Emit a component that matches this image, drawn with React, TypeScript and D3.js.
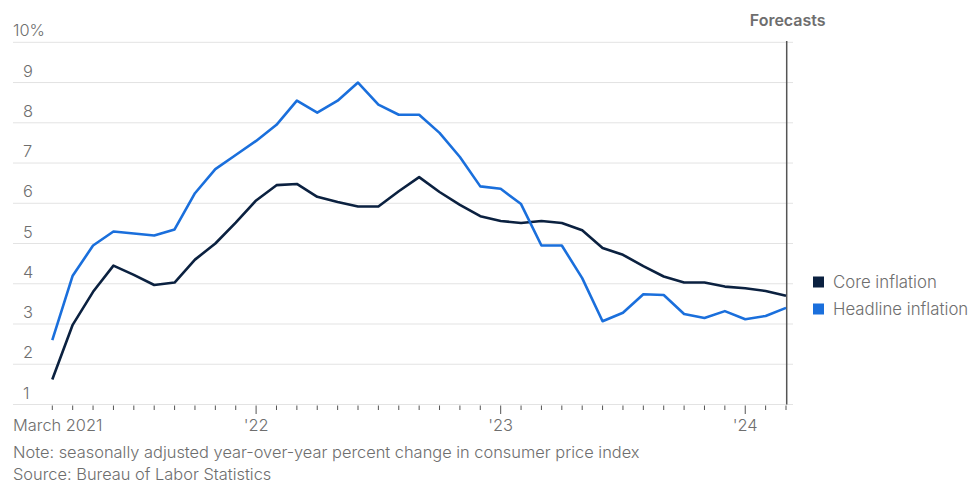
import * as d3 from 'd3';
import React, { useEffect, useRef } from 'react';

// monthly, March 2021 .. March 2024
const months: string[] = d3.range(37).map(i => {
  const d = new Date(2021, 2 + i, 1);
  return d3.timeFormat('%Y-%m')(d);
});

const headline: number[] = [
  2.6, 4.2, 4.95, 5.3, 5.25, 5.2, 5.35, 6.25, 6.85, 7.2, 7.55, 7.95,
  8.55, 8.25, 8.55, 9.0, 8.45, 8.2, 8.2, 7.75, 7.15, 6.42, 6.36, 5.98,
  4.95, 4.95, 4.14, 3.07, 3.28, 3.74, 3.72, 3.25, 3.15, 3.32, 3.12, 3.2, 3.4,
];

const core: number[] = [
  1.62, 2.98, 3.8, 4.45, 4.22, 3.97, 4.03, 4.6, 5.0, 5.52, 6.07, 6.45,
  6.48, 6.16, 6.03, 5.92, 5.92, 6.3, 6.65, 6.28, 5.96, 5.68, 5.56, 5.51,
  5.56, 5.51, 5.33, 4.89, 4.72, 4.44, 4.18, 4.03, 4.03, 3.93, 3.89, 3.82, 3.7,
];

const yTicks: number[] = [1, 2, 3, 4, 5, 6, 7, 8, 9, 10];
const xLabels: { i: number; text: string }[] = [
  { i: 0, text: 'March 2021' },
  { i: 10, text: "'22" },
  { i: 22, text: "'23" },
  { i: 34, text: "'24" },
];

const series = [
  { name: 'Core inflation', values: core, color: '#0b2140' },
  { name: 'Headline inflation', values: headline, color: '#1a6fdc' },
];

const W = 980;
const H = 496;
const FONT = 'Inter, "Noto Sans", sans-serif';
const GRAY = '#6e6e6e';
const FS = '16.4px';

const App: React.FC = () => {
  const svgRef = useRef<SVGSVGElement>(null);

  useEffect(() => {
    if (!svgRef.current) return;
    const svg = d3.select(svgRef.current);
    svg.selectAll('*').remove();

    const x = d3.scaleLinear().domain([0, months.length - 1]).range([52.3, 786]);
    const y = d3.scaleLinear().domain([1, 10]).range([404.5, 42.3]);
    const gridLeft = 13;
    const gridRight = 793;

    // gridlines
    svg.append('g')
      .selectAll('line')
      .data(yTicks)
      .join('line')
      .attr('x1', gridLeft)
      .attr('x2', gridRight)
      .attr('y1', d => y(d))
      .attr('y2', d => y(d))
      .attr('stroke', '#e3e3e3')
      .attr('stroke-width', 1);

    // y labels (above gridlines)
    svg.append('g')
      .selectAll('text')
      .data(yTicks)
      .join('text')
      .attr('x', d => (d === 10 ? 13 : 23))
      .attr('y', d => y(d) - 6)
      .attr('font-family', FONT)
      .attr('font-size', FS)
      .attr('font-weight', 300)
      .attr('fill', GRAY)
      .text(d => (d === 10 ? '10%' : String(d)));

    // month ticks
    svg.append('g')
      .selectAll('line')
      .data(months.map((m, i) => i))
      .join('line')
      .attr('x1', d => x(d))
      .attr('x2', d => x(d))
      .attr('y1', 405.5)
      .attr('y2', d => (xLabels.some(l => l.i === d && d !== 0) ? 414 : 410))
      .attr('stroke', '#555')
      .attr('stroke-width', 1);

    // x labels
    svg.append('g')
      .selectAll('text')
      .data(xLabels)
      .join('text')
      .attr('x', d => (d.i === 0 ? 13 : x(d.i)))
      .attr('y', 431)
      .attr('text-anchor', d => (d.i === 0 ? 'start' : 'middle'))
      .attr('font-family', FONT)
      .attr('font-size', FS)
      .attr('font-weight', 300)
      .attr('fill', GRAY)
      .text(d => d.text);

    // forecasts marker
    const fx = x(months.length - 1) + 0.7;
    svg.append('line')
      .attr('x1', fx)
      .attr('x2', fx)
      .attr('y1', 41)
      .attr('y2', 404.5)
      .attr('stroke', '#555')
      .attr('stroke-width', 1.5);

    svg.append('text')
      .attr('x', fx + 1)
      .attr('y', 26)
      .attr('text-anchor', 'middle')
      .attr('font-family', FONT)
      .attr('font-size', '16px')
      .attr('font-weight', 600)
      .attr('fill', GRAY)
      .text('Forecasts');

    // lines
    const line = d3.line<number>()
      .x((d, i) => x(i))
      .y(d => y(d))
      .curve(d3.curveLinear);

    svg.append('g')
      .selectAll('path')
      .data(series)
      .join('path')
      .attr('d', d => line(d.values))
      .attr('fill', 'none')
      .attr('stroke', d => d.color)
      .attr('stroke-width', 2.6)
      .attr('stroke-linejoin', 'round');

    // legend
    const legend = svg.append('g').attr('transform', 'translate(813, 282)');
    series.forEach((s, i) => {
      const g = legend.append('g').attr('transform', `translate(0, ${i * 27})`);
      g.append('rect')
        .attr('x', 0)
        .attr('y', -5.5)
        .attr('width', 11)
        .attr('height', 11)
        .attr('fill', s.color);
      g.append('text')
        .attr('x', 20)
        .attr('y', 0)
        .attr('dy', '0.35em')
        .attr('font-family', FONT)
        .attr('font-size', '16.8px')
        .attr('font-weight', 300)
        .attr('fill', GRAY)
        .text(s.name);
    });

    // notes
    svg.append('text')
      .attr('x', 13)
      .attr('y', 458)
      .attr('font-family', FONT)
      .attr('font-size', FS)
      .attr('font-weight', 300)
      .attr('fill', GRAY)
      .text('Note: seasonally adjusted year-over-year percent change in consumer price index');

    svg.append('text')
      .attr('x', 13)
      .attr('y', 480)
      .attr('font-family', FONT)
      .attr('font-size', FS)
      .attr('font-weight', 300)
      .attr('fill', GRAY)
      .text('Source: Bureau of Labor Statistics');
  }, []);

  return (
    <svg
      ref={svgRef}
      width={W}
      height={H}
      style={{ position: 'absolute', left: 0, top: 0, background: '#fff' }}
    />
  );
};

export default App;
